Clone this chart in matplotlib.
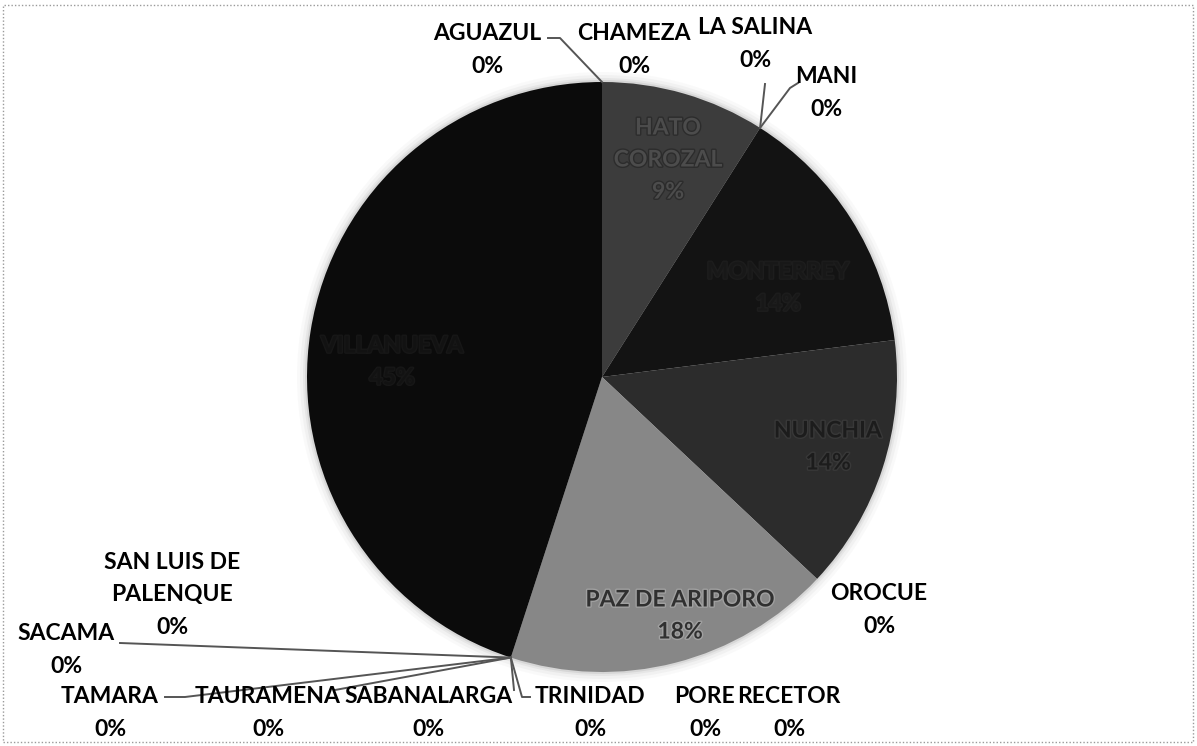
import matplotlib
matplotlib.use("Agg")
import matplotlib.pyplot as plt
import numpy as np
from matplotlib.patches import Circle, Rectangle
import matplotlib.patheffects as pe

# ---------------- data ----------------
municipios = ["AGUAZUL", "CHAMEZA", "HATO\nCOROZAL", "LA SALINA", "MANI", "MONTERREY",
              "NUNCHIA", "OROCUE", "PAZ DE ARIPORO", "PORE", "RECETOR", "SABANALARGA",
              "SACAMA", "SAN LUIS DE\nPALENQUE", "TAMARA", "TAURAMENA", "TRINIDAD", "VILLANUEVA"]
porcentajes = [0, 0, 9, 0, 0, 14, 14, 0, 18, 0, 0, 0, 0, 0, 0, 0, 0, 45]
etiquetas_pct = ["0%", "0%", "9%", "0%", "0%", "14%", "14%", "0%", "18%", "0%", "0%", "0%",
                 "0%", "0%", "0%", "0%", "0%", "45%"]

# ---------------- style / layout ----------------
slice_colors = ["#222", "#222", "#3c3c3c", "#222", "#222", "#131313", "#2c2c2c", "#222",
                "#878787", "#222", "#222", "#222", "#222", "#222", "#222", "#222", "#222", "#0b0b0b"]
inner_text_colors = {2: "#4c4c4c", 5: "#181818", 6: "#1c1c1c", 8: "#303030", 17: "#121212"}
inner_stroke = {2: "#2c2c2c", 5: "#1d1d1d", 6: "#383838", 8: "#a0a0a0", 17: "#171717"}

W, H = 1197, 746
# label centre positions in pixel coordinates (x, y from top)
label_pos = {
    0: (487, 50), 1: (634, 50), 2: (668, 160), 3: (755, 44), 4: (826, 93),
    5: (778, 288), 6: (828, 447), 7: (879, 610), 8: (680, 616), 9: (705, 713),
    10: (789, 713), 11: (428, 713), 12: (66, 650), 13: (172, 595), 14: (110, 713),
    15: (268, 713), 16: (590, 713), 17: (392, 362),
}
# leader line waypoints (pixel coordinates), line ends at the wedge anchor
leaders = {
    0: [(548, 38), (560, 38)],
    3: [(765, 84)],
    4: [(798, 83), (790, 88)],
    11: [(514, 690)],
    12: [(120, 643)],
    14: [(165, 697), (185, 697)],
    15: [(335, 690)],
    16: [(530, 697), (522, 697)],
}

fig = plt.figure(figsize=(W / 100, H / 100), dpi=100)
ax = fig.add_axes([0, 0, 1, 1])

cx, cy, R = 602, H - 377, 295

# soft halo round the pie
for k, a in [(10, 0.04), (7, 0.06), (4, 0.09), (2, 0.14)]:
    ax.add_patch(Circle((cx, cy), R + k, color="#7a7a7a", alpha=a, lw=0, zorder=0))

wedges, _ = ax.pie(porcentajes, colors=slice_colors, startangle=90, counterclock=False,
                   center=(cx, cy), radius=R, wedgeprops=dict(linewidth=0))
for w in wedges:
    w.set_zorder(1)

ax.set_xlim(0, W)
ax.set_ylim(0, H)
ax.set_aspect("equal")
ax.axis("off")

font = dict(family=["Lato", "DejaVu Sans"], fontweight="bold", fontsize=16.5)

for i, (name, pct) in enumerate(zip(municipios, etiquetas_pct)):
    x, yp = label_pos[i]
    txt = f"{name}\n{pct}"
    if porcentajes[i] > 0:
        t = ax.text(x, H - yp, txt, ha="center", va="center", color=inner_text_colors[i],
                    linespacing=1.65, zorder=5, **font)
        t.set_path_effects([pe.withStroke(linewidth=2, foreground=inner_stroke[i])])
    else:
        ax.text(x, H - yp, txt, ha="center", va="center", color="black", linespacing=1.65,
                zorder=5, **font)
    if i in leaders:
        ang = np.deg2rad(wedges[i].theta1)
        ax_pt = (cx + R * np.cos(ang), cy + R * np.sin(ang))
        pts = [(px, H - py) for px, py in leaders[i]] + [ax_pt]
        xs, ys = zip(*pts)
        ax.plot(xs, ys, color="#555555", lw=1.4, zorder=4)

# dotted frame round the chart
fig.patches.append(Rectangle((3 / W, 4 / H), (W - 7) / W, (H - 9) / H, transform=fig.transFigure,
                             fill=False, edgecolor="#9a9a9a", lw=1, linestyle=(0, (1, 1.5))))

fig.savefig("out.png", dpi=100, facecolor="white")
